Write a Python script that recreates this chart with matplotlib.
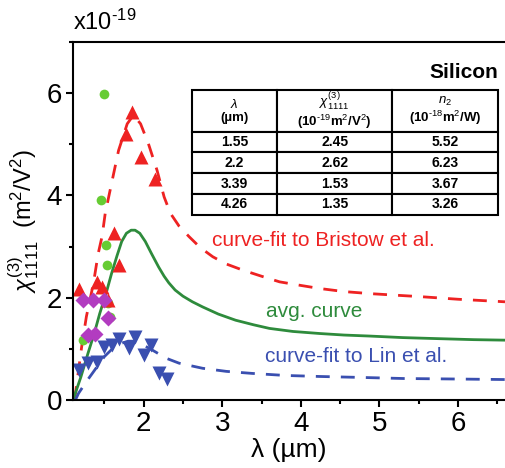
import numpy as np
import matplotlib.pyplot as plt
from matplotlib.ticker import MultipleLocator

plt.rcParams['font.family'] = ['Liberation Sans', 'DejaVu Sans']
plt.rcParams['mathtext.fontset'] = 'custom'
plt.rcParams['mathtext.rm'] = 'Liberation Sans'
plt.rcParams['mathtext.it'] = 'Liberation Sans:italic'
plt.rcParams['mathtext.bf'] = 'Liberation Sans:bold'

# curve-fit to Bristow (red dashed)
bx = [1.12, 1.21, 1.27, 1.36, 1.42, 1.47, 1.51, 1.59, 1.68, 1.79, 1.87, 1.96, 2.06, 2.17,
      2.26, 2.34, 2.45, 2.58, 2.72, 2.88, 3.05, 3.26, 3.5, 3.73, 4.0, 4.24, 4.55, 4.88,
      5.2, 5.53, 6.0, 6.6]
by = [0.0, 1.04, 1.63, 2.28, 2.86, 3.2, 3.65, 4.23, 4.88, 5.4, 5.57, 5.4, 5.01, 4.49,
      3.97, 3.65, 3.4, 3.19, 2.98, 2.8, 2.66, 2.54, 2.42, 2.31, 2.24, 2.18, 2.12, 2.08,
      2.05, 2.02, 1.97, 1.92]

# avg. curve (green solid)
gx = [1.1, 1.2, 1.29, 1.37, 1.44, 1.52, 1.59, 1.66, 1.72, 1.78, 1.84, 1.89, 1.95, 2.02,
      2.1, 2.19, 2.26, 2.32, 2.4, 2.5, 2.62, 2.75, 2.95, 3.17, 3.4, 3.6, 3.9, 4.24, 4.55,
      4.88, 5.3, 5.74, 6.2, 6.6]
gy = [0.0, 0.45, 0.91, 1.3, 1.69, 2.08, 2.47, 2.82, 3.1, 3.26, 3.32, 3.32, 3.26, 3.1,
      2.86, 2.6, 2.42, 2.29, 2.15, 2.03, 1.92, 1.82, 1.68, 1.56, 1.47, 1.4, 1.34, 1.3,
      1.27, 1.25, 1.22, 1.2, 1.18, 1.17]

# curve-fit to Lin (blue dashed)
lx = [1.13, 1.17, 1.27, 1.35, 1.42, 1.5, 1.6, 1.7, 1.8, 1.88, 1.96, 2.06, 2.15, 2.28,
      2.45, 2.75, 3.05, 3.38, 3.8, 4.24, 4.8, 5.31, 6.0, 6.6]
ly = [0.0, 0.13, 0.36, 0.53, 0.68, 0.85, 1.0, 1.1, 1.15, 1.15, 1.1, 1.02, 0.94, 0.82,
      0.72, 0.62, 0.56, 0.52, 0.48, 0.46, 0.44, 0.42, 0.41, 0.40]

# measured points
red_x = [1.17, 1.40, 1.47, 1.55, 1.68, 1.62, 1.77, 1.85, 1.96, 2.15]
red_y = [2.18, 2.31, 2.21, 1.95, 2.64, 3.26, 5.21, 5.63, 4.75, 4.33]
grn_x = [1.23, 1.55, 1.57, 1.53, 1.52, 1.46, 1.49]
grn_y = [1.17, 1.9, 1.63, 2.64, 3.03, 3.92, 5.99]
mag_x = [1.23, 1.36, 1.49, 1.55, 1.29, 1.38]
mag_y = [1.95, 1.95, 1.95, 1.6, 1.27, 1.3]
blu_x = [1.17, 1.29, 1.40, 1.49, 1.59, 1.68, 1.81, 1.89, 2.0, 2.09, 2.19, 2.30]
blu_y = [0.59, 0.72, 0.75, 1.04, 1.07, 1.2, 1.01, 1.24, 0.88, 1.07, 0.52, 0.42]

# table
col_labels = [r'$\mathit{\lambda}$' + '\n(µm)',
              r'$\chi^{(3)}_{1111}$' + '\n' + r'(10$^{\text{-19}}$m$^2$/V$^2$)',
              r'$n_2$' + '\n' + r'(10$^{\text{-18}}$m$^2$/W)']
lam = ['1.55', '2.2', '3.39', '4.26']
chi = ['2.45', '2.62', '1.53', '1.35']
n2 = ['5.52', '6.23', '3.67', '3.26']

red = '#ee2222'
green = '#2e8b3c'
lgreen = '#66cc33'
blue = '#3a4fb0'
mag = '#b23cc0'

fig = plt.figure(figsize=(5.05, 4.68), dpi=100)
ax = fig.add_axes([0.1446, 0.1453, 0.8554, 0.765])

ax.plot(bx, by, '--', color=red, lw=2, dashes=(5, 4))
ax.plot(gx, gy, '-', color=green, lw=2)
ax.plot(lx, ly, '--', color=blue, lw=2, dashes=(5, 4))

ax.plot(grn_x, grn_y, 'o', color=lgreen, ms=7, mec='none')
ax.plot(red_x, red_y, '^', color=red, ms=10, mec='none')
ax.plot(mag_x, mag_y, 'D', color=mag, ms=8, mec='none')
ax.plot(blu_x, blu_y, 'v', color=blue, ms=10, mec='none')

ax.text(2.87, 3.12, 'curve-fit to Bristow et al.', color=red, fontsize=15, va='center')
ax.text(3.56, 1.74, 'avg. curve', color=green, fontsize=15, va='center')
ax.text(3.54, 0.86, 'curve-fit to Lin et al.', color=blue, fontsize=15, va='center')

ax.set_xlim(1.1, 6.6)
ax.set_ylim(0, 7)
ax.xaxis.set_minor_locator(MultipleLocator(0.5))
ax.yaxis.set_major_locator(MultipleLocator(2))
ax.yaxis.set_minor_locator(MultipleLocator(1))
ax.set_xticks([2, 3, 4, 5, 6])
ax.tick_params(which='major', direction='out', length=5, width=1.5, labelsize=20, pad=3)
ax.tick_params(which='minor', direction='out', length=3, width=1.5)
for s in ['left', 'bottom', 'top']:
    ax.spines[s].set_linewidth(1.5)
ax.spines['right'].set_visible(False)

ax.set_xlabel('λ (µm)', fontsize=19, labelpad=1)
ax.set_ylabel(r'$\chi^{(3)}_{1111}$  (m$^2$/V$^2$)', fontsize=17, labelpad=4)
ax.text(0.0, 1.02, r'x10$^{\text{-19}}$', transform=ax.transAxes, fontsize=17,
        ha='left', va='bottom')

ax.text(0.984, 0.916, 'Silicon', transform=ax.transAxes, fontsize=15, fontweight='bold',
        ha='right', va='center')

rows = [list(r) for r in zip(lam, chi, n2)]
tb = ax.table(cellText=rows, colLabels=col_labels, cellLoc='center',
              bbox=[0.275, 0.517, 0.709, 0.349], colWidths=[85, 115.6, 105.7])
tb.auto_set_font_size(False)
hh = 41.7 / 358
rh = (0.349 - hh) / 4
for (r, c), cell in tb.get_celld().items():
    cell.set_linewidth(1.5)
    cell.set_facecolor('white')
    cell.get_text().set_fontweight('bold')
    if r == 0:
        cell.set_height(hh)
        cell.get_text().set_fontsize(9.5)
        cell.get_text().set_linespacing(1.1)
    else:
        cell.set_height(rh)
        cell.get_text().set_fontsize(10)

fig.savefig('out.png', dpi=100)
